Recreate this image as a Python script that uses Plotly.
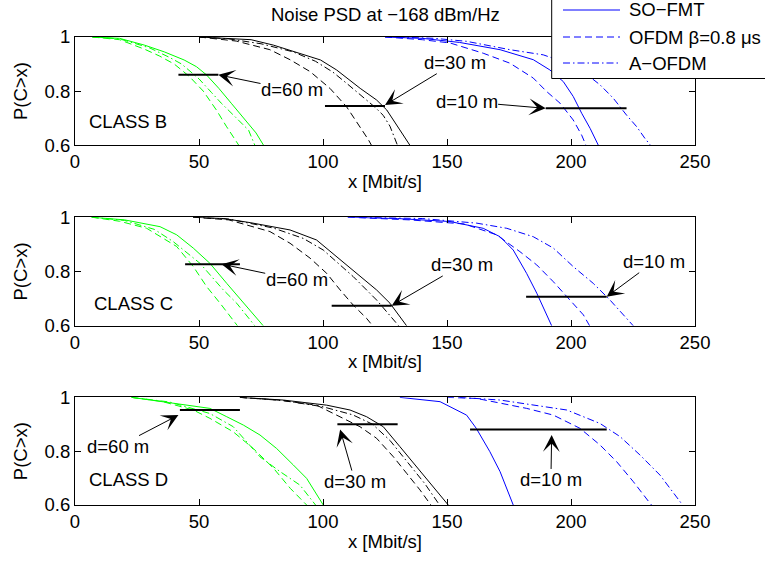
import plotly.graph_objects as go

# ---------------- data (x [Mbit/s], P(C>x)) ----------------
# CLASS B
B_D60_SOFMT = [(7, 1.0), (18, 0.995), (28, 0.97), (36, 0.945), (44, 0.915), (49, 0.89), (53, 0.86), (58, 0.81), (63, 0.755), (69, 0.69), (73, 0.645), (76, 0.6)]
B_D60_OFDM = [(7, 1.0), (18, 0.99), (28, 0.955), (34, 0.93), (40, 0.9), (46, 0.855), (51.7, 0.8), (57, 0.73), (61, 0.67), (66, 0.6)]
B_D60_AOFDM = [(7, 1.0), (18, 0.993), (30, 0.96), (38, 0.925), (43, 0.9), (50, 0.845), (55, 0.795), (59, 0.755), (64, 0.71), (70, 0.655), (72.5, 0.6)]
B_D30_SOFMT = [(50, 1.0), (62, 0.995), (71, 0.99), (80, 0.97), (90, 0.94), (99, 0.915), (105.5, 0.878), (110, 0.845), (115, 0.81), (121.6, 0.767), (125.7, 0.73), (131, 0.656), (135, 0.6)]
B_D30_OFDM = [(50, 1.0), (65, 0.985), (78.6, 0.953), (86.7, 0.916), (94.8, 0.872), (102.8, 0.81), (109.5, 0.742), (113.6, 0.687), (118.3, 0.62), (119.5, 0.6)]
B_D30_AOFDM = [(50, 1.0), (62, 0.993), (75, 0.975), (88, 0.945), (97, 0.91), (104, 0.87), (110, 0.825), (116, 0.78), (121, 0.74), (124.3, 0.71), (127, 0.67), (130, 0.6)]
B_D10_SOFMT = [(125, 1.0), (140, 0.995), (155, 0.98), (171.4, 0.953), (184.8, 0.916), (191.5, 0.878), (196.9, 0.835), (200.9, 0.78), (204.3, 0.718), (207.7, 0.662), (211, 0.6)]
B_D10_OFDM = [(125, 1.0), (140, 0.99), (151.2, 0.978), (164.6, 0.94), (175.4, 0.903), (184.8, 0.848), (190.2, 0.798), (195.6, 0.755), (200.9, 0.693), (204.3, 0.637), (206, 0.6)]
B_D10_AOFDM = [(130, 1.0), (145, 0.995), (157.9, 0.984), (175.4, 0.953), (188.8, 0.934), (202.3, 0.891), (211.7, 0.823), (217.1, 0.773), (222.4, 0.711), (226.5, 0.668), (229.8, 0.625), (232, 0.6)]

# CLASS C
C_D60_SOFMT = [(6.7, 1.0), (20, 0.99), (34.3, 0.965), (41, 0.935), (47.7, 0.886), (54.4, 0.83), (61.2, 0.756), (67.9, 0.683), (75.9, 0.6)]
C_D60_OFDM = [(6.7, 1.0), (18, 0.985), (28.9, 0.959), (35.6, 0.923), (41, 0.892), (47.7, 0.818), (53.1, 0.744), (58.5, 0.683), (64.5, 0.615), (65.5, 0.6)]
C_D60_AOFDM = [(6.7, 1.0), (20, 0.988), (32, 0.955), (39.6, 0.91), (50.4, 0.83), (59.8, 0.732), (65.2, 0.683), (71.2, 0.615), (72.5, 0.6)]
C_D30_SOFMT = [(47.6, 1.0), (60, 0.995), (70.6, 0.98), (86.7, 0.953), (97.4, 0.916), (105.5, 0.855), (113.6, 0.793), (121.6, 0.732), (127, 0.683), (133.7, 0.6)]
C_D30_OFDM = [(47.6, 1.0), (62, 0.99), (78.6, 0.947), (86.7, 0.904), (94.8, 0.849), (101.5, 0.793), (106.9, 0.732), (112.2, 0.676), (117.6, 0.627), (120, 0.6)]
C_D30_AOFDM = [(47.6, 1.0), (62, 0.993), (80, 0.96), (92, 0.922), (100.1, 0.879), (112.2, 0.781), (121.6, 0.695), (129.7, 0.609), (130.5, 0.6)]
C_D10_SOFMT = [(110, 1.0), (130, 0.995), (151.2, 0.984), (164.6, 0.959), (171.4, 0.928), (176.7, 0.879), (182.1, 0.793), (186.2, 0.72), (192.2, 0.6)]
C_D10_OFDM = [(110, 1.0), (135, 0.99), (157, 0.975), (170, 0.935), (179.4, 0.873), (186.2, 0.824), (192.9, 0.762), (198.3, 0.707), (205, 0.64), (207.5, 0.6)]
C_D10_AOFDM = [(115, 1.0), (140, 0.995), (162, 0.978), (174.1, 0.959), (184.8, 0.928), (192.9, 0.886), (200.9, 0.818), (209, 0.756), (215.7, 0.695), (225.1, 0.6)]

# CLASS D
D_D60_SOFMT = [(22.8, 1.0), (41, 0.978), (54.4, 0.959), (61.2, 0.928), (67.9, 0.897), (74.6, 0.86), (81.3, 0.81), (88, 0.749), (93.4, 0.699), (100.1, 0.6)]
D_D60_OFDM = [(22.8, 1.0), (35, 0.985), (47.7, 0.953), (54.4, 0.922), (63.8, 0.872), (71.9, 0.81), (80.1, 0.736), (86.8, 0.662), (93.4, 0.6)]
D_D60_AOFDM = [(22.8, 1.0), (38, 0.983), (54.4, 0.94), (63.8, 0.891), (74.6, 0.779), (82.7, 0.724), (90.7, 0.674), (97, 0.6)]
D_D30_SOFMT = [(66.5, 1.0), (84, 0.99), (101.5, 0.971), (110.9, 0.953), (117.6, 0.928), (124.3, 0.891), (131, 0.817), (137.8, 0.742), (143.1, 0.68), (149.9, 0.606), (150.5, 0.6)]
D_D30_OFDM = [(66.5, 1.0), (82, 0.99), (97.4, 0.971), (106.9, 0.928), (114.9, 0.891), (121.6, 0.848), (128.4, 0.779), (133.7, 0.718), (139.1, 0.656), (143.5, 0.6)]
D_D30_AOFDM = [(66.5, 1.0), (84, 0.988), (100, 0.965), (112, 0.935), (120, 0.9), (127, 0.84), (134, 0.76), (141, 0.68), (147, 0.6)]
D_D10_SOFMT = [(131, 1.0), (147.2, 0.984), (157.9, 0.934), (161.8, 0.885), (167.3, 0.798), (171.4, 0.724), (176.7, 0.6)]
D_D10_OFDM = [(150, 1.0), (162, 0.996), (182.1, 0.959), (192.9, 0.934), (203.6, 0.885), (211.7, 0.823), (218.4, 0.761), (225.1, 0.687), (231.9, 0.606), (232.5, 0.6)]
D_D10_AOFDM = [(155, 1.0), (171.4, 0.99), (198.3, 0.953), (211.7, 0.903), (219.8, 0.854), (227.8, 0.786), (235.9, 0.711), (244, 0.612), (245, 0.6)]

CLASSES = ["CLASS B", "CLASS C", "CLASS D"]
SCHEMES = ["SO\u2212FMT", "OFDM \u03b2=0.8 \u03bcs", "A\u2212OFDM"]
DIST_LABELS = ["d=60 m", "d=30 m", "d=10 m"]
X_TICKS = [0, 50, 100, 150, 200, 250]
Y_TICKS = [0.6, 0.8, 1.0]
Y_TICKTEXT = ["0.6", "0.8", "1"]

# distance marker segments: (x0, x1, y) per class, per distance (60, 30, 10)
SEGMENTS = {
    "B": [(41.7, 57.8, 0.86), (100.8, 125.0, 0.745), (189.8, 222.4, 0.736)],
    "C": [(44.4, 66.5, 0.827), (103.5, 127.7, 0.674), (181.9, 214.4, 0.707)],
    "D": [(42.3, 66.5, 0.953), (105.8, 130.1, 0.90), (159.3, 214.4, 0.881)],
}
# arrow tip (x, y) and label centre (x, y)
ARROWS = {
    "B": [((57.8, 0.86), (87.5, 0.804)), ((125.0, 0.748), (153.2, 0.905)), ((189.8, 0.736), (157.9, 0.761))],
    "C": [((59.1, 0.827), (89.4, 0.769)), ((127.7, 0.674), (155.9, 0.824)), ((214.4, 0.707), (233.5, 0.836))],
    "D": [((41.7, 0.934), (17.3, 0.817)), ((106.9, 0.881), (112.9, 0.687)), ((192.2, 0.86), (191.9, 0.693))],
}
CLASS_POS = {"B": (4.8, 0.687), "C": (6.7, 0.683), "D": (4.7, 0.693)}

# ---------------- figure ----------------
FONT = "Liberation Sans, Arial, Helvetica, sans-serif"
FS = 18.5
COLORS = {"60": "#00ff00", "30": "#000000", "10": "#0000ff"}
DASHES = ["solid", "7px,4px", "7px,3px,1.5px,3px"]

data = {
    "B": {"10": [B_D10_SOFMT, B_D10_OFDM, B_D10_AOFDM], "30": [B_D30_SOFMT, B_D30_OFDM, B_D30_AOFDM], "60": [B_D60_SOFMT, B_D60_OFDM, B_D60_AOFDM]},
    "C": {"10": [C_D10_SOFMT, C_D10_OFDM, C_D10_AOFDM], "30": [C_D30_SOFMT, C_D30_OFDM, C_D30_AOFDM], "60": [C_D60_SOFMT, C_D60_OFDM, C_D60_AOFDM]},
    "D": {"10": [D_D10_SOFMT, D_D10_OFDM, D_D10_AOFDM], "30": [D_D30_SOFMT, D_D30_OFDM, D_D30_AOFDM], "60": [D_D60_SOFMT, D_D60_OFDM, D_D60_AOFDM]},
}

fig = go.Figure()
keys = ["B", "C", "D"]
for i, k in enumerate(keys):
    ax = "" if i == 0 else str(i + 1)
    for d in ["10", "30", "60"]:
        for s, curve in enumerate(data[k][d]):
            xs = [p[0] for p in curve]
            ys = [p[1] for p in curve]
            fig.add_trace(go.Scatter(
                x=xs, y=ys, mode="lines", xaxis="x" + ax, yaxis="y" + ax,
                line=dict(color=COLORS[d], width=1, dash=DASHES[s]),
                name=SCHEMES[s] + " (" + DIST_LABELS[["60", "30", "10"].index(d)] + ")",
                showlegend=False, hoverinfo="skip"))

# pixel -> paper helpers (plot area: x 75..695, y 37..505)
def px_x(p):
    return (p - 75) / 620.0

def px_y(p):
    return (505 - p) / 468.0

domains = [[0.769, 1.0], [0.383, 0.615], [0.0, 0.230]]
layout = dict(
    width=765, height=561,
    margin=dict(l=75, r=70, t=37, b=56, autoexpand=False),
    paper_bgcolor="white", plot_bgcolor="white",
    font=dict(family=FONT, size=FS, color="black"),
    showlegend=False,
)
axis_common = dict(showline=True, linecolor="black", linewidth=1, mirror="ticks",
                   ticks="inside", ticklen=6, tickcolor="black", showgrid=False,
                   zeroline=False, tickfont=dict(size=FS))
for i in range(3):
    ax = "" if i == 0 else str(i + 1)
    layout["xaxis" + ax] = dict(axis_common, range=[0, 250], tickvals=X_TICKS,
                                anchor="y" + ax, domain=[0, 1],
                                title=dict(text="x [Mbit/s]", standoff=3, font=dict(size=FS)))
    layout["yaxis" + ax] = dict(axis_common, range=[0.6, 1.0], tickvals=Y_TICKS,
                                ticktext=Y_TICKTEXT, anchor="x" + ax, domain=domains[i],
                                title=dict(text="P(C>x)", standoff=12, font=dict(size=FS)))
fig.update_layout(**layout)

shapes = []
annotations = []
for i, k in enumerate(keys):
    ax = "" if i == 0 else str(i + 1)
    for (x0, x1, y) in SEGMENTS[k]:
        shapes.append(dict(type="line", xref="x" + ax, yref="y" + ax, x0=x0, x1=x1, y0=y, y1=y,
                           line=dict(color="black", width=2)))
    for j, ((tx, ty), (lx, ly)) in enumerate(ARROWS[k]):
        annotations.append(dict(xref="x" + ax, yref="y" + ax, x=tx, y=ty,
                                axref="x" + ax, ayref="y" + ax, ax=lx, ay=ly,
                                text=DIST_LABELS[j], showarrow=True, arrowhead=3,
                                arrowsize=2.8, arrowwidth=1, arrowcolor="black",
                                font=dict(size=FS, color="black"), borderpad=0))
    cx, cy = CLASS_POS[k]
    annotations.append(dict(xref="x" + ax, yref="y" + ax, x=cx, y=cy, text=CLASSES[i],
                            showarrow=False, xanchor="left", yanchor="middle",
                            font=dict(size=FS, color="black")))

# title
annotations.append(dict(xref="paper", yref="paper", x=px_x(385), y=px_y(15),
                        text="Noise PSD at \u2212168 dBm/Hz", showarrow=False,
                        xanchor="center", yanchor="middle", font=dict(size=FS)))

# legend box (extends past the top and right edges of the figure, as in the original)
shapes.append(dict(type="rect", xref="paper", yref="paper", layer="above",
                   x0=px_x(551.7), x1=px_x(800), y0=px_y(78.5), y1=px_y(-20),
                   line=dict(color="black", width=1), fillcolor="white"))
LEG_Y = [10, 37, 63]
for s in range(3):
    shapes.append(dict(type="line", xref="paper", yref="paper", layer="above",
                       x0=px_x(563), x1=px_x(620), y0=px_y(LEG_Y[s]), y1=px_y(LEG_Y[s]),
                       line=dict(color=COLORS["10"], width=1, dash=DASHES[s])))
    annotations.append(dict(xref="paper", yref="paper", x=px_x(627), y=px_y(LEG_Y[s]),
                            text=SCHEMES[s], showarrow=False, xanchor="left", yanchor="middle",
                            font=dict(size=FS, color="black")))
fig.update_layout(shapes=shapes, annotations=annotations)

fig.write_html("out.html")
